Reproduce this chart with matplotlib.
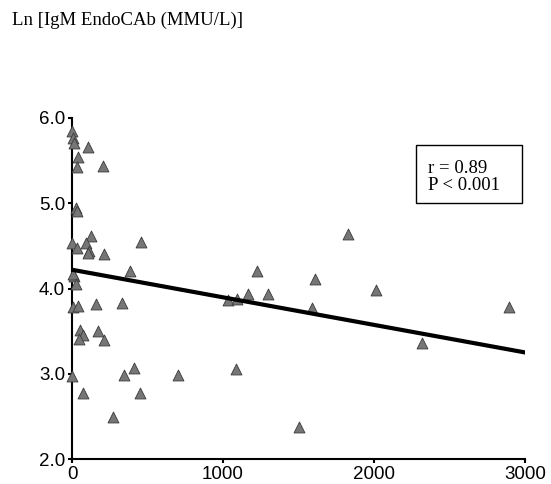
import numpy as np
import matplotlib
matplotlib.use("Agg")
import matplotlib.pyplot as plt
from matplotlib.patches import Rectangle

# values
x_vals = [0, 5, 10, 108, 38, 31, 203, 26, 30, 0, 31, 126, 93, 115, 105, 212, 455,
          384, 13, 8, 24, 4, 42, 157, 329, 53, 71, 46, 174, 212, 0, 71, 274, 344,
          413, 450, 700, 1830, 1223, 1609, 2013, 1035, 1095, 1168, 1300, 1591,
          1084, 1503, 2896, 2320]
y_vals = [5.85, 5.77, 5.71, 5.66, 5.54, 5.43, 5.44, 4.94, 4.91, 4.53, 4.48, 4.61,
          4.53, 4.44, 4.42, 4.41, 4.55, 4.21, 4.15, 4.17, 4.05, 3.78, 3.79, 3.82,
          3.83, 3.51, 3.46, 3.41, 3.50, 3.40, 2.97, 2.78, 2.49, 2.99, 3.07, 2.77,
          2.99, 4.64, 4.21, 4.11, 3.98, 3.86, 3.88, 3.93, 3.93, 3.77, 3.05, 2.37,
          3.78, 3.36]
fit_x = [0, 3000]
fit_y = [4.22, 3.25]
x_ticks = [0, 1000, 2000, 3000]
y_ticks = [2.0, 3.0, 4.0, 5.0, 6.0]

W, H = 551, 484
fig = plt.figure(figsize=(W/100, H/100), dpi=100)
ax = fig.add_axes([72/W, 25/H, 453/W, 341/H])

ax.scatter(x_vals, y_vals, marker='^', s=62, c='#767676', edgecolors='#3a3a3a',
           linewidths=0.6, zorder=3, clip_on=False)
ax.plot(fit_x, fit_y, '-', color='black', lw=3, zorder=4)

ax.set_xlim(0, 3000)
ax.set_ylim(2, 6)
ax.set_xticks(x_ticks)
ax.set_yticks(y_ticks)
ax.set_yticklabels(['%.1f' % v for v in y_ticks])
for s in ['top', 'right']:
    ax.spines[s].set_visible(False)
ax.spines['left'].set_linewidth(1.5)
ax.spines['bottom'].set_linewidth(1.5)
ax.tick_params(length=3, width=1.5, pad=2, labelsize=13.5)
for lab in ax.get_xticklabels() + ax.get_yticklabels():
    lab.set_family('Liberation Sans')

fig.text(12/W, 1 - 20/H, 'Ln [IgM EndoCAb (MMU/L)]', family='Liberation Serif',
         fontsize=13.5, va='center', ha='left')

# stats box
fig.patches.append(Rectangle((416/W, 1 - 203/H), 106/W, 58/H, transform=fig.transFigure,
                             fill=False, ec='black', lw=1))
fig.text(428/W, 1 - 177/H, 'r = 0.89\nP < 0.001', family='Liberation Serif',
         fontsize=13.5, va='center', ha='left', linespacing=1.05)

plt.savefig('out.png', dpi=100)
